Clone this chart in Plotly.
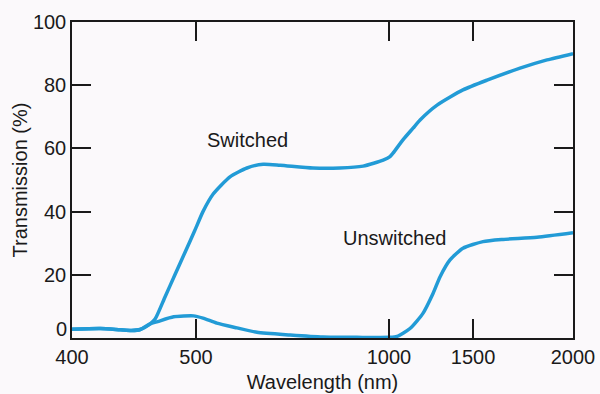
import numpy as np
import plotly.graph_objects as go

# Wavelength axis is drawn with unequal spacing between its labelled ticks
tick_wavelengths = [400, 500, 1000, 1500, 2000]
tick_labels = ["400", "500", "1000", "1500", "2000"]
tick_positions = [0.0, 1.0, 2.556, 3.234, 4.04]

# Transmission (%) of the switched state
switched_nm = [400, 423, 439, 448, 455, 463, 467, 475, 483, 491, 499, 518, 544, 588,
               632, 674, 718, 803, 873, 933, 985, 1006, 1024, 1083, 1143, 1185,
               1286, 1440, 1570, 1735, 1870, 2000]
switched_pct = [2.8, 3.0, 2.6, 2.4, 2.7, 4.5, 6.0, 13.0, 20.0, 27.0, 34.0, 40.0, 45.5, 51.0,
                53.8, 55.0, 54.7, 53.8, 53.8, 54.4, 56.3, 57.4, 58.5, 62.7, 66.4, 69.0,
                73.7, 78.5, 81.6, 85.4, 88.0, 90.0]

# Transmission (%) of the unswitched state
unswitched_nm = [400, 423, 439, 448, 455, 463, 469, 482, 498, 518, 554, 606, 658, 744,
                 829, 917, 1006, 1048, 1125, 1202, 1262, 1304, 1363, 1440, 1550,
                 1650, 1820, 2000]
unswitched_pct = [2.8, 3.0, 2.6, 2.4, 2.7, 4.5, 5.2, 6.7, 7.0, 6.3, 4.7, 3.2, 1.8, 0.95,
                  0.3, 0.2, 0.2, 0.5, 3.0, 7.8, 14.1, 19.4, 24.7, 28.4, 30.5,
                  31.2, 31.9, 33.3]

y_ticks = [0, 20, 40, 60, 80, 100]
y_tick_labels = ["", "20", "40", "60", "80", "100"]


def axis_pos(nm):
    return np.interp(nm, tick_wavelengths, tick_positions)


line_color = "#229bd6"
ink = "#1a1a1a"
font = "Liberation Sans, Arial, sans-serif"

fig = go.Figure()
for nm, pct in [(switched_nm, switched_pct), (unswitched_nm, unswitched_pct)]:
    fig.add_trace(go.Scatter(
        x=axis_pos(nm), y=pct, mode="lines",
        line=dict(color=line_color, width=3.5, shape="spline", smoothing=0.6),
        showlegend=False, hoverinfo="skip",
    ))

fig.add_annotation(x=axis_pos(633), y=62.7, text="Switched", showarrow=False,
                   font=dict(size=20, color=ink, family=font))
fig.add_annotation(x=axis_pos(1030), y=31.6, text="Unswitched", showarrow=False,
                   font=dict(size=20, color=ink, family=font))
# zero label sits just above the corner so it clears the "400" below it
fig.add_annotation(xref="paper", x=0, y=0, text="0", showarrow=False,
                   xanchor="right", yanchor="bottom", xshift=-3, yshift=-4,
                   font=dict(size=20, color=ink, family=font))

axis_common = dict(
    showline=True, linecolor=ink, linewidth=1.5, mirror="ticks",
    ticks="inside", ticklen=19, tickwidth=1.5, tickcolor=ink,
    showgrid=False, zeroline=False, automargin=False,
    tickfont=dict(size=20, color=ink, family=font),
)

fig.update_layout(
    width=600, height=394,
    margin=dict(l=72, r=27, t=22, b=56),
    paper_bgcolor="#fbf9fb", plot_bgcolor="#fbf9fb",
    font=dict(family=font, color=ink),
    xaxis=dict(
        range=[0, tick_positions[-1]],
        tickvals=tick_positions, ticktext=tick_labels,
        title=dict(text="Wavelength (nm)", font=dict(size=20), standoff=8),
        **axis_common,
    ),
    yaxis=dict(
        range=[0, 100], tickvals=y_ticks, ticktext=y_tick_labels,
        title=dict(text="Transmission (%)", font=dict(size=20), standoff=0),
        **axis_common,
    ),
)

fig.write_html("out.html")
